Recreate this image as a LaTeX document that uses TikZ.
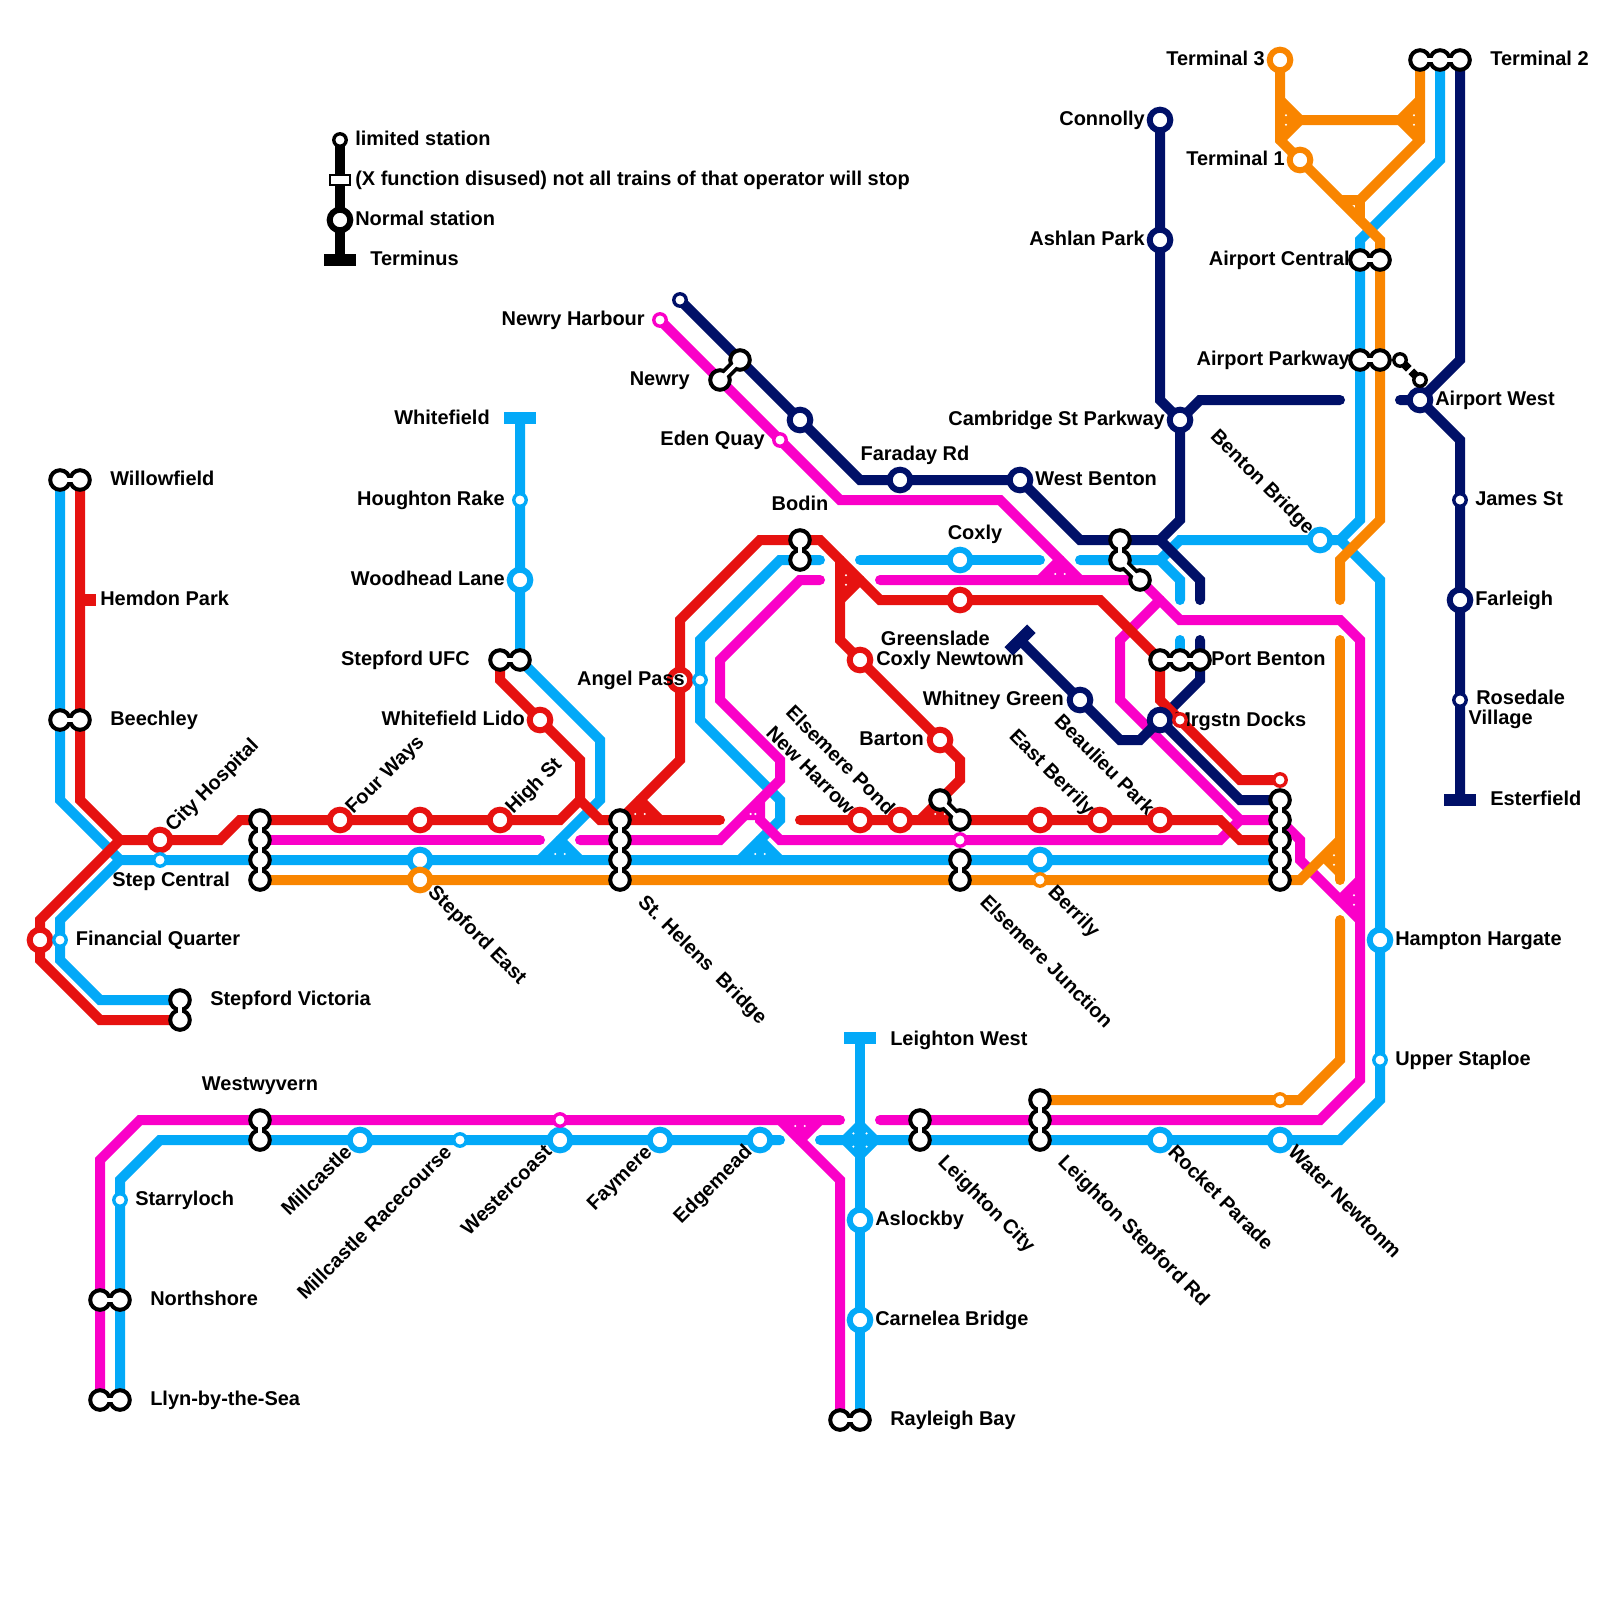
\documentclass[tikz,border=0pt]{standalone}
\usepackage{fontspec}
\setmainfont{Liberation Sans}
\usetikzlibrary{calc}
\definecolor{cred}{RGB}{230,18,16}
\definecolor{cblue}{RGB}{3,169,248}
\definecolor{cpink}{RGB}{250,0,200}
\definecolor{cnavy}{RGB}{0,16,104}
\definecolor{corange}{RGB}{249,133,0}
\newcommand{\lblfont}{\fontsize{14.2}{14.2}\selectfont\bfseries}
\tikzset{
  route/.style={line width=2.5mm,line cap=round,line join=miter,miter limit=10},
  nstn/.style={circle,draw=#1,fill=white,line width=1.5mm,inner sep=0pt,minimum size=5.15mm},
  lstn/.style={circle,draw=#1,fill=white,line width=0.85mm,inner sep=0pt,minimum size=3.1mm},
  xdot/.style={circle,draw=black,fill=white,line width=1mm,inner sep=0pt,minimum size=4.9mm},
  neckout/.style={draw=black,line width=2.8mm},
  neckin/.style={draw=white,line width=0.9mm},
  termbar/.style={fill=#1,inner sep=0pt,minimum width=8mm,minimum height=3mm},
  lbl/.style={font=\lblfont,inner sep=0pt,text height=10.2pt,text depth=0pt},
  lblr/.style={lbl,anchor=west},
  lbll/.style={lbl,anchor=east},
  lblup/.style={lbl,anchor=west,rotate=45},
  lblupe/.style={lbl,anchor=east,rotate=45},
  lbldn/.style={lbl,anchor=west,rotate=-45},
  lbldne/.style={lbl,anchor=east,rotate=-45},
}
% chain of interchange rings
\newcommand{\xfer}[1]{%
  \foreach \n [remember=\n as \m, count=\i] in {#1} {\ifnum\i>1 \draw[neckout] (\m.center) -- (\n.center);\fi}
  \foreach \n in {#1} {\node[xdot] (\n) at (\n) {};}
  \foreach \n [remember=\n as \m, count=\i] in {#1} {\ifnum\i>1 \draw[neckin] (\m.center) -- (\n.center);\fi}
}
% junction triangle, with the two specks near its base
\newcommand{\jtri}[4]{%
  \fill[#1] #2 -- #3 -- #4 -- cycle;
  \foreach \f in {0.33,0.67} {\fill[white] ($($#2!\f!#3$)!0.3!#4$) circle (0.3mm);}
}
\begin{document}
\begin{tikzpicture}[x=0.5cm,y=-0.5cm]
  \useasboundingbox (0,0) rectangle (80,80);

  % station positions
  \foreach \n/\p in {cityhosp/{8,42},fourways/{17,41},redmid/{21,41},highst/{25,41},finred/{2,47},
      lido/{27,36},angelred/{34,34},coxnewt/{43,33},barton/{47,37},newharrow/{43,41},elsepond/{45,41},
      eastmid/{52,41},eastberrily/{55,41},beaulieu/{58,41},coxlyred/{48,30},
      eastblue/{21,43},woodhead/{26,29},coxly/{48,28},berrilyblue/{52,43},bentonbr/{66,27},
      hampton/{69,47},millcastle/{18,57},westercoast/{28,57},faymere/{33,57},edgemead/{38,57},
      rocket/{58,57},water/{64,57},aslockby/{43,61},carnelea/{43,66},
      eastorange/{21,44},termthree/{64,3},termone/{65,8},
      connolly/{58,6},ashlan/{58,12},cambridge/{59,21},edennavy/{40,21},faraday/{45,24},
      westbenton/{51,24},whitney/{54,35},mrgnavy/{58,36},airportw/{71,20},farleigh/{73,30},
      stepcentral/{8,43},finblue/{3,47},houghton/{26,25},angelblue/{35,34},staploe/{69,53},
      millrace/{23,57},starry/{6,60},harbour/{33,16},eden/{39,22},elsepink/{48,42},westpink/{28,56},
      newrynavy/{34,15},james/{73,25},rosedale/{73,35},mrgred/{59,36},redend/{64,39},
      berrilyorange/{52,44},orangeend/{64,55},
      willowb/{3,24},willowr/{4,24},beechb/{3,36},beechr/{4,36},vicb/{9,50},vicr/{9,51},
      scA/{13,41},scB/{13,42},scC/{13,43},scD/{13,44},ufcr/{25,33},ufcb/{26,33},
      shA/{31,41},shB/{31,42},shC/{31,43},shD/{31,44},bodr/{40,27},bodb/{40,28},
      newryA/{36,19},newryB/{37,18},ponda/{47,40},pondb/{48,41},ejA/{48,43},ejB/{48,44},
      wbA/{56,27},wbB/{56,28},wbC/{57,29},pbA/{58,33},pbB/{59,33},pbC/{60,33},
      hubA/{64,40},hubB/{64,41},hubC/{64,42},hubD/{64,43},hubE/{64,44},
      ttA/{71,3},ttB/{72,3},ttC/{73,3},acA/{68,13},acB/{69,13},apA/{68,18},apB/{69,18},
      wwA/{13,56},wwB/{13,57},lcA/{46,56},lcB/{46,57},lsA/{52,55},lsB/{52,56},lsC/{52,57},
      northA/{5,65},northB/{6,65},llynA/{5,70},llynB/{6,70},rayA/{42,71},rayB/{43,71},
      whitefield/{26,20.9},leighton/{43,51.9},esterfield/{73,40},greenslade/{51,32},legterm/{17,13},
      limA/{70,18},limB/{71,19},leglim/{17,7},legdis/{17,9},legnorm/{17,11},crossing/{43,57}}
    {\coordinate (\n) at (\p);}

  % legend
  \draw[route,black,line cap=butt] (leglim) -- (legterm);

  % blue routes
  \draw[route,cblue] (willowb) -- (3,40) -- (6,43) -- (hubD);
  \draw[route,cblue] (6,43) -- (3,46) -- (3,48) -- (5,50) -- (vicb);
  \draw[route,cblue] (whitefield) -- (ufcb) -- (30,37) -- (30,40) -- (27,43);
  \draw[route,cblue] (28,42) -- (29,43);
  \jtri{cblue}{(27,43)}{(29,43)}{(28,42)}
  \draw[route,cblue] (41,28) -- (39,28) -- (35,32) -- (35,36) -- (39,40) -- (39,41) -- (37,43);
  \draw[route,cblue] (38,42) -- (39,43);
  \jtri{cblue}{(37,43)}{(39,43)}{(38,42)}
  \draw[route,cblue] (43,28) -- (52,28);
  \draw[route,cblue] (54,28) -- (58,28) -- (59,29) -- (59,30);
  \draw[route,cblue] (58,28) -- (59,27) -- (67,27) -- (69,29) -- (69,55) -- (67,57) -- (41,57);
  \draw[route,cblue] (59,32) -- (pbB);
  \draw[route,cblue] (67,27) -- (68,26) -- (68,12) -- (72,8) -- (ttB);
  \draw[route,cblue] (39,57) -- (8,57) -- (6,59) -- (llynB);
  \draw[route,cblue] (leighton) -- (rayB);
  \fill[cblue] (crossing) ++(-1.1,0) -- ++(1.1,-1.1) -- ++(1.1,1.1) -- ++(-1.1,1.1) -- cycle;
  \foreach \a/\b in {-1/-1,1/-1,-1/1,1/1}
    {\fill[white] ($(crossing)+(\a*0.33,\b*0.33)$) circle (0.3mm);}

  % pink routes
  \draw[route,cpink] (scB) -- (27,42);
  \draw[route,cpink] (29,42) -- (36,42) -- (39,39) -- (39,38) -- (36,35) -- (36,33) -- (40,29) -- (41,29);
  \draw[route,cpink] (38,40) -- (38,41) -- (39,42) -- (61,42) -- (62,41) -- (hubB) -- (65,42) -- (65,43) -- (68,46);
  \jtri{cpink}{(37,41)}{(38,41)}{(38,40)}
  \draw[route,cpink] (harbour) -- (42,25) -- (50,25) -- (54,29);
  \draw[route,cpink] (52,29) -- (53,28);
  \jtri{cpink}{(52,29)}{(54,29)}{(53,28)}
  \draw[route,cpink] (44,29) -- (57,29) -- (59,31) -- (67,31) -- (68,32) -- (68,54) -- (66,56) -- (44,56);
  \draw[route,cpink] (67,45) -- (68,44);
  \jtri{cpink}{(68,46)}{(68,44)}{(67,45)}
  \draw[route,cpink] (58,30) -- (56,32) -- (56,35) -- (62,41);
  \draw[route,cpink] (42,56) -- (7,56) -- (5,58) -- (llynA);
  \draw[route,cpink] (39,56) -- (42,59) -- (rayA);
  \draw[route,cpink] (41,56) -- (40,57);
  \jtri{cpink}{(39,56)}{(41,56)}{(40,57)}

  % navy routes
  \draw[route,cnavy] (newrynavy) -- (43,24) -- (51,24) -- (54,27) -- (58,27) -- (59,26) -- (59,21) -- (58,20) -- (connolly);
  \draw[route,cnavy] (cambridge) -- (60,20) -- (67,20);
  \draw[route,cnavy] (58,27) -- (60,29) -- (60,30);
  \draw[route,cnavy] (60,32) -- (60,34) -- (mrgnavy);
  \draw[route,cnavy] (greenslade) -- (56,37) -- (57,37) -- (mrgnavy) -- (62,40) -- (hubA);
  \draw[route,cnavy] (70,20) -- (airportw) -- (73,18) -- (ttC);
  \draw[route,cnavy] (airportw) -- (73,22) -- (esterfield);

  % orange routes
  \draw[route,corange] (scD) -- (65,44) -- (67,42);
  \draw[route,corange] (67,32) -- (67,44);
  \jtri{corange}{(67,44)}{(67,42)}{(66,43)}
  \draw[route,corange] (67,30) -- (67,28) -- (69,26) -- (69,12) -- (termone) -- (64,7) -- (termthree);
  \draw[route,corange] (67,46) -- (67,53) -- (65,55) -- (lsA);
  \draw[route,corange] (64,5) -- (65,6) -- (70,6) -- (71,5);
  \draw[route,corange] (64,7) -- (65,6);
  \draw[route,corange] (70,6) -- (71,7);
  \jtri{corange}{(64,7)}{(64,5)}{(65,6)}
  \jtri{corange}{(71,5)}{(71,7)}{(70,6)}
  \draw[route,corange] (ttA) -- (71,7) -- (68,10) -- (67,10);
  \draw[route,corange] (68,10) -- (68,11);

  % red routes
  \draw[route,cred] (willowr) -- (4,40) -- (6,42) -- (11,42) -- (12,41) -- (28,41) -- (29,40) -- (30,41) -- (36,41);
  \draw[route,cred] (29,40) -- (29,38) -- (25,34) -- (ufcr);
  \draw[route,cred] (6,42) -- (2,46) -- (2,48) -- (5,51) -- (vicr);
  \draw[route,cred] (shA) -- (34,38) -- (34,31) -- (38,27) -- (41,27) -- (44,30) -- (55,30) -- (58,33) -- (58,35) -- (62,39) -- (redend);
  \draw[route,cred] (32,40) -- (33,41);
  \jtri{cred}{(31,41)}{(33,41)}{(32,40)}
  \draw[route,cred] (42,28) -- (42,32) -- (48,38) -- (48,39) -- (46,41);
  \draw[route,cred] (42,30) -- (43,29);
  \jtri{cred}{(42,30)}{(42,28)}{(43,29)}
  \draw[route,cred] (40,41) -- (61,41) -- (62,42) -- (hubC);
  \jtri{cred}{(46,41)}{(48,41)}{(47,40)}
  \node[fill=cred,inner sep=0pt,minimum width=4mm,minimum height=3mm,anchor=west] (hemdon) at (4,30) {};

  % terminus bars
  \node[termbar=cblue] (whitefield) at (whitefield) {};
  \node[termbar=cblue] (leighton) at (leighton) {};
  \node[termbar=cnavy] (esterfield) at (esterfield) {};
  \node[termbar=cnavy,rotate=45] (greenslade) at (greenslade) {};
  \node[termbar=black] (legterm) at (legterm) {};

  \node[lblr] (tmrgstn) at (58.7,35.95) {Mrgstn Docks};

  % stations
  \foreach \n in {cityhosp,fourways,redmid,highst,finred,lido,angelred,coxnewt,barton,newharrow,
      elsepond,eastmid,eastberrily,beaulieu,coxlyred} {\node[nstn=cred] (\n) at (\n) {};}
  \foreach \n in {eastblue,woodhead,coxly,berrilyblue,bentonbr,hampton,millcastle,westercoast,
      faymere,edgemead,rocket,water,aslockby,carnelea} {\node[nstn=cblue] (\n) at (\n) {};}
  \foreach \n in {eastorange,termthree,termone} {\node[nstn=corange] (\n) at (\n) {};}
  \foreach \n in {connolly,ashlan,cambridge,edennavy,faraday,westbenton,whitney,mrgnavy,airportw,
      farleigh} {\node[nstn=cnavy] (\n) at (\n) {};}
  \foreach \n in {stepcentral,finblue,houghton,angelblue,staploe,millrace,starry} {\node[lstn=cblue] (\n) at (\n) {};}
  \foreach \n in {harbour,eden,elsepink,westpink} {\node[lstn=cpink] (\n) at (\n) {};}
  \foreach \n in {newrynavy,james,rosedale} {\node[lstn=cnavy] (\n) at (\n) {};}
  \foreach \n in {mrgred,redend} {\node[lstn=cred] (\n) at (\n) {};}
  \foreach \n in {berrilyorange,orangeend} {\node[lstn=corange] (\n) at (\n) {};}
  \node[lstn=black] (leglim) at (leglim) {};
  \node[draw=black,fill=white,line width=0.6mm,inner sep=0pt,minimum width=5mm,minimum height=2.6mm] (legdis) at (legdis) {};
  \node[nstn=black] (legnorm) at (legnorm) {};

  % limited link beside Airport Parkway
  \draw[black,line width=2mm,dash pattern=on 3.1mm off 0.9mm] (limA) -- (limB);
  \node[lstn=black] (limA) at (limA) {};
  \node[lstn=black] (limB) at (limB) {};

  % interchanges
  \xfer{willowb,willowr}
  \xfer{beechb,beechr}
  \xfer{vicb,vicr}
  \xfer{scA,scB,scC,scD}
  \xfer{ufcr,ufcb}
  \xfer{shA,shB,shC,shD}
  \xfer{bodr,bodb}
  \xfer{newryA,newryB}
  \xfer{ponda,pondb}
  \xfer{ejA,ejB}
  \xfer{wbA,wbB,wbC}
  \xfer{pbA,pbB,pbC}
  \xfer{hubA,hubB,hubC,hubD,hubE}
  \xfer{ttA,ttB,ttC}
  \xfer{acA,acB}
  \xfer{apA,apB}
  \xfer{wwA,wwB}
  \xfer{lcA,lcB}
  \xfer{lsA,lsB,lsC}
  \xfer{northA,northB}
  \xfer{llynA,llynB}
  \xfer{rayA,rayB}

  % labels
  \node[lblr] (tleglim) at (17.75,6.9) {limited station};
  \node[lblr] (tlegdis) at (17.75,8.9) {(X function disused) not all trains of that operator will stop};
  \node[lblr] (tlegnorm) at (17.75,10.9) {Normal station};
  \node[lblr] (tlegterm) at (18.5,12.9) {Terminus};
  \node[lblr] (twillow) at (5.5,23.9) {Willowfield};
  \node[lblr] (themdon) at (5,29.9) {Hemdon Park};
  \node[lblr] (tbeech) at (5.5,35.9) {Beechley};
  \node[lblr] (tstep) at (5.6,43.95) {Step Central};
  \node[lblr] (tfin) at (3.78,46.9) {Financial Quarter};
  \node[lblr] (tvic) at (10.5,49.9) {Stepford Victoria};
  \node[lblup] (tcity) at (8.4,41.4) {City Hospital};
  \node[lblup] (tfour) at (17.4,40.5) {Four Ways};
  \node[lblup] (thigh) at (25.4,40.5) {High St};
  \node[lbldn] (teast) at (21.6,44.4) {Stepford East};
  \node[lbldn] (thelens) at (32.1,44.9) {St. Helens\ \ Bridge};
  \node[lbldn] (tjunc) at (49.2,44.9) {Elsemere Junction};
  \node[lbldn] (tberrily) at (52.6,44.4) {Berrily};
  \node[lbldne] (tharrow) at (42.6,40.55) {New Harrow};
  \node[lbldne] (tpond) at (44.6,40.55) {Elsemere Pond};
  \node[lbldne] (teastb) at (54.6,40.55) {East Berrily};
  \node[lbldne] (tbeau) at (57.6,40.55) {Beaulieu Park};
  \node[lbll] (tbarton) at (46.2,36.9) {Barton};
  \node[lblr] (tnewt) at (43.8,32.9) {Coxly Newtown};
  \node[lbll] (tgreen) at (49.5,31.9) {Greenslade};
  \node[lbll] (twhit) at (53.2,34.9) {Whitney Green};
  \node[lblr] (tport) at (60.55,32.9) {Port Benton};
  \node[lbldne] (tbenton) at (65.6,26.5) {Benton Bridge};
  \node[lbl] (tbodin) at (40,25.15) {Bodin};
  \node[lbl] (tcoxly) at (48.75,26.6) {Coxly};
  \node[lbl] (tfaraday) at (45.75,22.65) {Faraday Rd};
  \node[lblr] (twest) at (51.75,23.9) {West Benton};
  \node[lbll] (tcamb) at (58.25,20.9) {Cambridge St Parkway};
  \node[lbll] (tconn) at (57.25,5.9) {Connolly};
  \node[lbll] (tashlan) at (57.25,11.9) {Ashlan Park};
  \node[lbll] (tthree) at (63.25,2.9) {Terminal 3};
  \node[lbll] (tone) at (64.25,7.9) {Terminal 1};
  \node[lblr] (ttwo) at (74.5,2.9) {Terminal 2};
  \node[lbll] (tcentral) at (67.5,12.9) {Airport Central};
  \node[lbll] (tparkway) at (67.5,17.9) {Airport Parkway};
  \node[lblr] (tairw) at (71.75,19.9) {Airport West};
  \node[lblr] (tjames) at (73.75,24.9) {James St};
  \node[lblr] (tfarl) at (73.75,29.9) {Farleigh};
  \node[font=\lblfont,inner sep=0pt,align=left,anchor=west] (trose) at (73.42,35.45) {\hspace*{0.19cm}Rosedale\\Village};
  \node[lblr] (tester) at (74.5,39.9) {Esterfield};
  \node[lblr] (thamp) at (69.75,46.9) {Hampton Hargate};
  \node[lblr] (tstap) at (69.75,52.9) {Upper Staploe};
  \node[lbldn] (twater) at (64.6,57.4) {Water Newtonm};
  \node[lbldn] (trock) at (58.6,57.4) {Rocket Parade};
  \node[lbldn] (tlstep) at (53.1,57.9) {Leighton Stepford Rd};
  \node[lbldn] (tlcity) at (47.1,57.9) {Leighton City};
  \node[lbl] (twest2) at (13,54.15) {Westwyvern};
  \node[lblupe] (tmill) at (17.4,57.4) {Millcastle};
  \node[lblupe] (tmillr) at (22.4,57.4) {Millcastle Racecourse};
  \node[lblupe] (twestc) at (27.4,57.4) {Westercoast};
  \node[lblupe] (tfay) at (32.4,57.4) {Faymere};
  \node[lblupe] (tedge) at (37.4,57.4) {Edgemead};
  \node[lblr] (tstarry) at (6.75,59.9) {Starryloch};
  \node[lblr] (tnorth) at (7.5,64.9) {Northshore};
  \node[lblr] (tllyn) at (7.5,69.9) {Llyn-by-the-Sea};
  \node[lblr] (tray) at (44.5,70.9) {Rayleigh Bay};
  \node[lblr] (tlwest) at (44.5,51.9) {Leighton West};
  \node[lblr] (task) at (43.75,60.9) {Aslockby};
  \node[lblr] (tcarn) at (43.75,65.9) {Carnelea Bridge};
  \node[lbll] (tufc) at (23.5,32.9) {Stepford UFC};
  \node[lbll] (twf) at (24.5,20.85) {Whitefield};
  \node[lbll] (thr) at (25.25,24.9) {Houghton Rake};
  \node[lbll] (twl) at (25.25,28.9) {Woodhead Lane};
  \node[lbll] (tlido) at (26.25,35.9) {Whitefield Lido};
  \node[lbll] (tangel) at (34.25,33.9) {Angel Pass};
  \node[lbll] (tharb) at (32.25,15.9) {Newry Harbour};
  \node[lbll] (tnewry) at (34.5,18.9) {Newry};
  \node[lbll] (teden) at (38.25,21.9) {Eden Quay};
\end{tikzpicture}
\end{document}
